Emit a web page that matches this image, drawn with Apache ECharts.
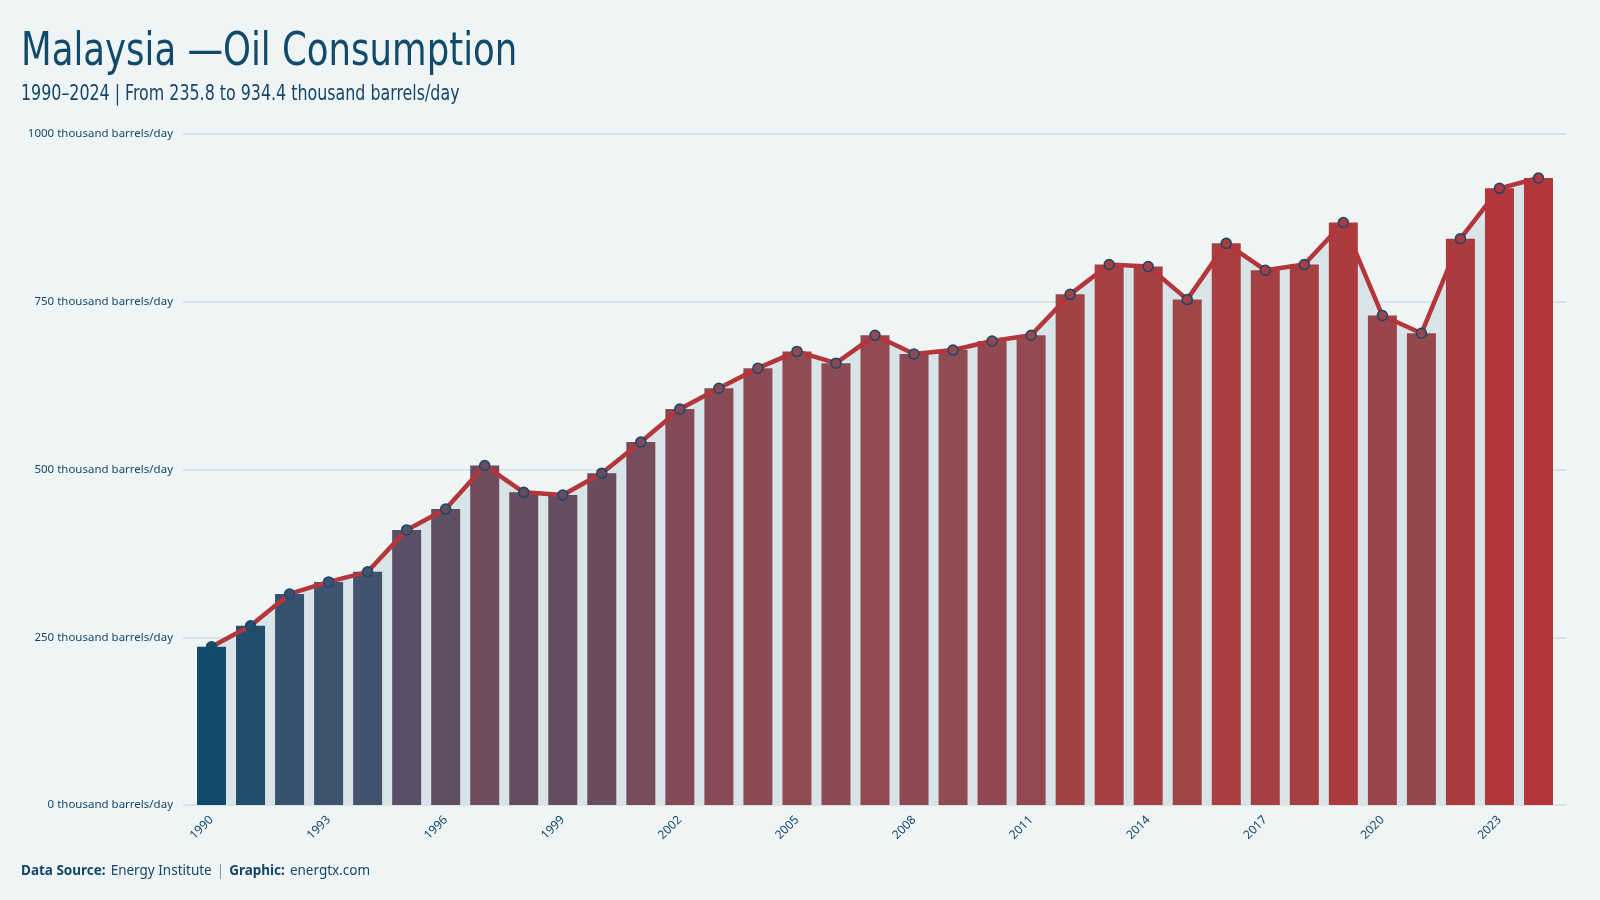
<!DOCTYPE html>
<html>
<head>
<meta charset="utf-8">
<script src="https://cdn.jsdelivr.net/npm/echarts@6/dist/echarts.min.js"></script>
<style>
  html, body { margin: 0; padding: 0; background: #eff5f5; }
  #chart { width: 1600px; height: 900px; }
</style>
</head>
<body>
<div id="chart"></div>
<script>
const years = ['1990','1991','1992','1993','1994','1995','1996','1997','1998','1999',
  '2000','2001','2002','2003','2004','2005','2006','2007','2008','2009',
  '2010','2011','2012','2013','2014','2015','2016','2017','2018','2019',
  '2020','2021','2022','2023','2024'];
const consumption = [235.8, 267, 314.5, 332.5, 347.5, 410, 441, 506, 466, 462,
  494.5, 541, 590, 621, 651, 676, 658.5, 700, 672, 678,
  691.5, 700, 761, 805.5, 802.5, 753.5, 837, 797, 805.5, 868,
  729.5, 703, 844, 919, 934.4];
const yTicks = [0, 250, 500, 750, 1000];
const unit = 'thousand barrels/day';
const titleText = 'Malaysia \u2014Oil Consumption';
const subtitleText = '1990\u20132024 | From 235.8 to 934.4 thousand barrels/day';

const textColor = '#15466a';
const condensed = '"DejaVu Sans Condensed", "Liberation Sans Narrow", "Roboto", sans-serif';
const body = '"Noto Sans", "Open Sans", sans-serif';

const chart = echarts.init(document.getElementById('chart'), null, { renderer: 'canvas' });
chart.setOption({
  backgroundColor: '#eff5f5',
  animation: false,
  graphic: [
    { type: 'text', x: 21, y: 29, scaleX: 0.84, z: 10,
      style: { text: titleText, fontFamily: condensed, fontSize: 47, fill: '#124a6b',
        verticalAlign: 'top', align: 'left' } },
    { type: 'text', x: 21, y: 84, scaleX: 0.84, z: 10,
      style: { text: subtitleText, fontFamily: condensed, fontSize: 21, fill: '#15466a',
        verticalAlign: 'top', align: 'left' } }
  ],
  title: [
    { text: '{b|Data Source:} {n|Energy Institute} {s||} {b|Graphic:} {n|energtx.com}', left: 21, top: 862, padding: 0,
      textStyle: { fontWeight: 'normal', rich: {
        b: { fontFamily: body, fontSize: 13.5, fontWeight: 'bold', color: '#15466a' },
        n: { fontFamily: body, fontSize: 13.5, fontWeight: 'normal', color: '#15466a' },
        s: { fontFamily: body, fontSize: 13.5, fontWeight: 'normal', color: '#7f99aa' }
      } } }
  ],
  visualMap: {
    show: false, type: 'continuous', seriesIndex: [1, 3], dimension: 1,
    min: 235.8, max: 934.4,
    inRange: { color: ['#124b6a', '#3a5370', '#5a4f66', '#6c4b5e', '#844a57', '#8e4a53', '#a04346', '#aa3c3f', '#b3363a'] }
  },
  grid: [
    { left: 183, right: 34, top: 134, height: 671 },
    { left: 192, right: 42, top: 134, height: 671 }
  ],
  xAxis: [
    { gridIndex: 0, type: 'value', min: 0, max: 1, show: false },
    { gridIndex: 1, type: 'category', data: years, boundaryGap: true,
      axisLine: { show: false }, axisTick: { show: false },
      axisLabel: { interval: 2, rotate: 45, margin: 13, fontFamily: body, fontSize: 12, color: textColor } }
  ],
  yAxis: [
    { gridIndex: 0, type: 'value', min: 0, max: 1000, interval: 250,
      axisLine: { show: false }, axisTick: { show: false },
      axisLabel: { margin: 10, fontFamily: body, fontSize: 11.5, color: textColor,
        formatter: v => yTicks.includes(v) ? v + ' ' + unit : '' },
      splitLine: { lineStyle: { color: '#d3dde0', width: 1.5 } } },
    { gridIndex: 1, type: 'value', min: 0, max: 1000, interval: 250, show: false,
      splitLine: { show: false } }
  ],
  series: [
    { type: 'line', xAxisIndex: 1, yAxisIndex: 1, data: consumption, symbol: 'none', z: 1,
      lineStyle: { width: 0, opacity: 0 }, areaStyle: { color: '#d8e4e8', opacity: 1 } },
    { type: 'bar', xAxisIndex: 1, yAxisIndex: 1, data: consumption, barWidth: 29, z: 2 },
    { type: 'line', xAxisIndex: 1, yAxisIndex: 1, data: consumption, symbol: 'none', z: 3,
      lineStyle: { color: '#b3373a', width: 4.5 } },
    { type: 'scatter', xAxisIndex: 1, yAxisIndex: 1, data: consumption, symbol: 'circle', symbolSize: 10, z: 4,
      itemStyle: { borderColor: '#16496c', borderWidth: 1.5, opacity: 1 } }
  ]
});
</script>
</body>
</html>
